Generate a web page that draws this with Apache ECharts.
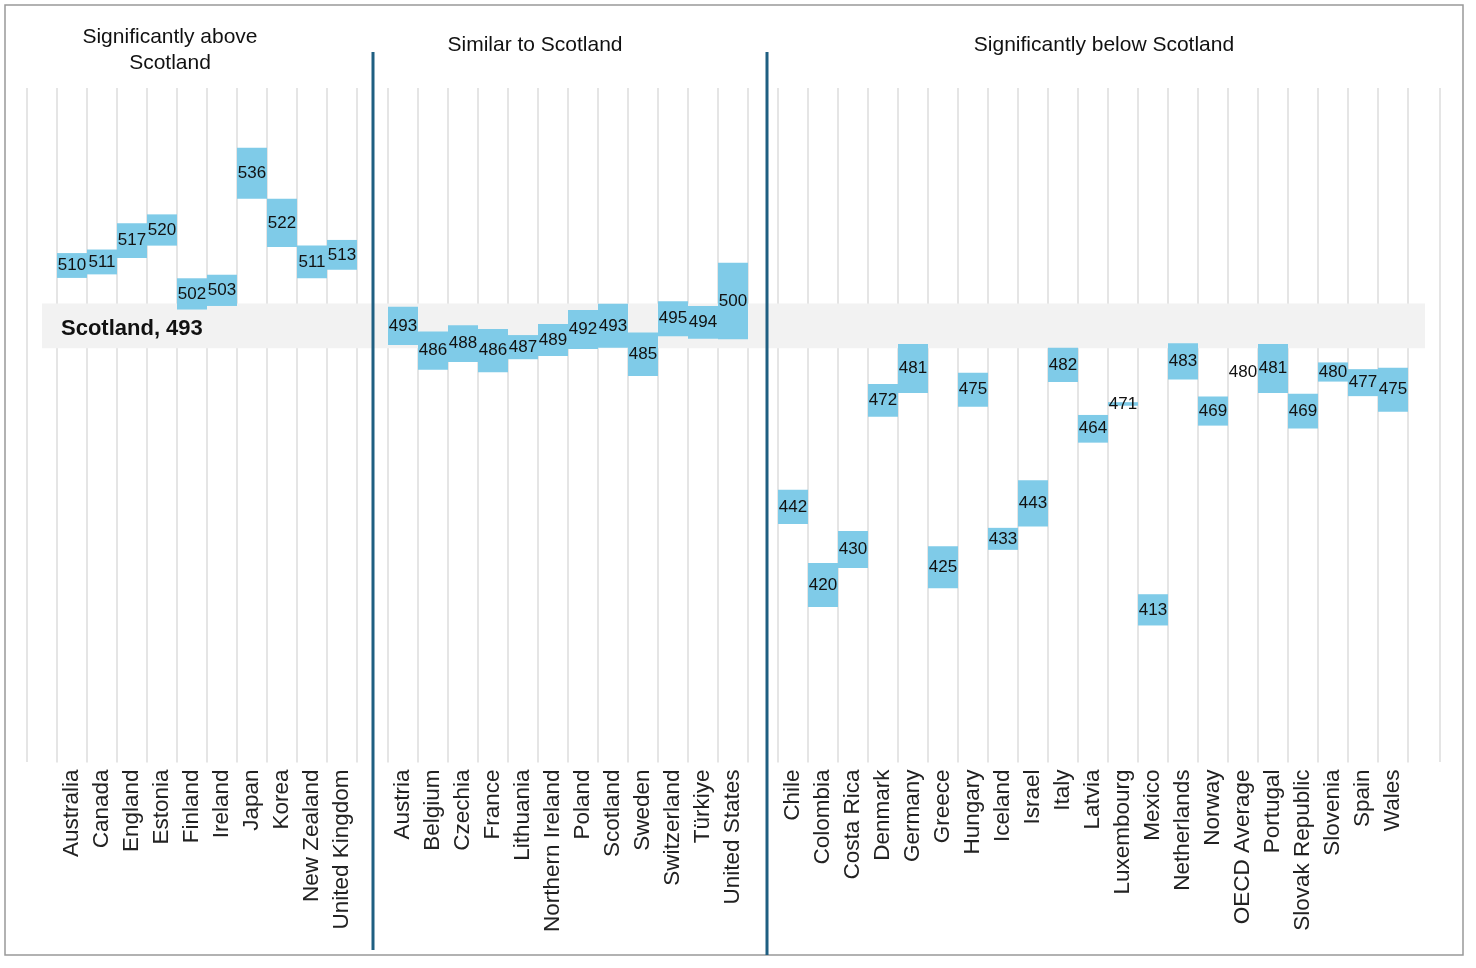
<!DOCTYPE html>
<html><head><meta charset="utf-8">
<script src="https://cdn.jsdelivr.net/npm/echarts@6/dist/echarts.min.js"></script>
<style>html,body{margin:0;background:#fff}#c{width:1476px;height:968px}</style>
</head><body><div id="c"></div>
<script>
// groups: countries, mean scores and half-width of the blue band
var aboveNames = ['Australia','Canada','England','Estonia','Finland','Ireland','Japan','Korea','New Zealand','United Kingdom'];
var aboveScores = [510,511,517,520,502,503,536,522,511,513];
var aboveHalf = [3.5,3.5,4.9,4.4,4.4,4.4,7.2,6.8,4.6,4.2];

var similarNames = ['Austria','Belgium','Czechia','France','Lithuania','Northern Ireland','Poland','Scotland','Sweden','Switzerland','Türkiye','United States'];
var similarScores = [493,486,488,486,487,489,492,493,485,495,494,500];
var similarHalf = [5.4,5.4,5.2,6.1,3.4,4.5,5.5,6.2,6.1,4.9,4.6,10.8];

var belowNames = ['Chile','Colombia','Costa Rica','Denmark','Germany','Greece','Hungary','Iceland','Israel','Italy','Latvia','Luxembourg','Mexico','Netherlands','Norway','OECD Average','Portugal','Slovak Republic','Slovenia','Spain','Wales'];
var belowScores = [442,420,430,472,481,425,475,433,443,482,464,471,413,483,469,480,481,469,480,477,475];
var belowHalf = [4.8,6.2,5.2,4.6,6.9,5.9,4.8,3.1,6.5,4.8,3.9,0.5,4.4,5.1,4.1,0,6.9,4.9,2.7,3.8,6.2];

var scotland = 493, scotlandHalf = 6.3;
var yMin = 370, yMax = 560;

var myChart = echarts.init(document.getElementById('c'));

function rows(scores, half){
    var out = [];
    for (var i = 0; i < scores.length; i++) out.push([i, scores[i], scores[i]-half[i], scores[i]+half[i]]);
    return out;
}

function renderBox(params, api){
    var w = api.size([1,0])[0];
    var top = api.coord([api.value(0), api.value(3)]);
    var bot = api.coord([api.value(0), api.value(2)]);
    var mid = api.coord([api.value(0), api.value(1)]);
    return {type:'group', children:[
        {type:'rect', shape:{x:top[0]-w/2, y:top[1], width:w, height:Math.max(bot[1]-top[1],0)},
         style:{fill:'#7fcbe8'}},
        {type:'text', style:{text:String(api.value(1)), x:mid[0], y:mid[1], align:'center', verticalAlign:'middle',
         fill:'#111', font:'17px "Liberation Sans", Arial'}}
    ]};
}

var grids = [
    {left:57, width:300, top:88, height:674.5},
    {left:388, width:360, top:88, height:674.5},
    {left:778, width:630, top:88, height:674.5},
    {left:42, width:1383, top:88, height:674.5}
];
var names = [aboveNames, similarNames, belowNames];
var xAxes = [], yAxes = [], series = [];
for (var g = 0; g < 3; g++){
    xAxes.push({type:'category', gridIndex:g, data:names[g], boundaryGap:true,
        axisLine:{show:false}, axisTick:{show:false},
        axisLabel:{rotate:90, interval:0, fontSize:22.5, color:'#222', fontFamily:'Liberation Sans', margin:7},
        splitLine:{show:true, lineStyle:{color:'#dcdcdc', width:1.5}}});
    yAxes.push({type:'value', gridIndex:g, min:yMin, max:yMax, show:false});
}
xAxes.push({type:'value', gridIndex:3, min:0, max:1, show:false});
yAxes.push({type:'value', gridIndex:3, min:yMin, max:yMax, show:false});

series.push({type:'custom', xAxisIndex:3, yAxisIndex:3, z:0, data:[], renderItem:function(){return null;},
    markArea:{silent:true, itemStyle:{color:'#f2f2f2'},
        label:{show:true, position:'insideLeft', formatter:'Scotland, ' + scotland, fontSize:22, fontWeight:'bold',
               color:'#111', fontFamily:'Liberation Sans', offset:[14,3]},
        data:[[{yAxis:scotland-scotlandHalf}, {yAxis:scotland+scotlandHalf}]]}});
var allScores = [aboveScores, similarScores, belowScores];
var allHalf = [aboveHalf, similarHalf, belowHalf];
for (var g = 0; g < 3; g++){
    series.push({type:'custom', xAxisIndex:g, yAxisIndex:g, z:5, data:rows(allScores[g], allHalf[g]), renderItem:renderBox});
}

var option = {
    animation:false,
    grid:grids, xAxis:xAxes, yAxis:yAxes, series:series,
    graphic:[
        {type:'rect', shape:{x:5, y:5, width:1458, height:950}, style:{fill:'none', stroke:'#999', lineWidth:1.5}, z:-1},
        {type:'line', shape:{x1:27, y1:88, x2:27, y2:762}, style:{stroke:'#dcdcdc', lineWidth:1.5}},
        {type:'line', shape:{x1:1440, y1:88, x2:1440, y2:762}, style:{stroke:'#dcdcdc', lineWidth:1.5}},
        {type:'line', shape:{x1:373, y1:52, x2:373, y2:950}, style:{stroke:'#1f5f82', lineWidth:3}, z:50},
        {type:'line', shape:{x1:767, y1:52, x2:767, y2:955}, style:{stroke:'#1f5f82', lineWidth:3}, z:50},
        {type:'text', x:170, y:24, style:{text:'Significantly above\nScotland', font:'21px "Liberation Sans", Arial', fill:'#111', align:'center', lineHeight:26}},
        {type:'text', x:535, y:35, style:{text:'Similar to Scotland', font:'21px "Liberation Sans", Arial', fill:'#111', align:'center'}},
        {type:'text', x:1104, y:35, style:{text:'Significantly below Scotland', font:'21px "Liberation Sans", Arial', fill:'#111', align:'center'}}
    ]
};
myChart.setOption(option);
</script></body></html>
